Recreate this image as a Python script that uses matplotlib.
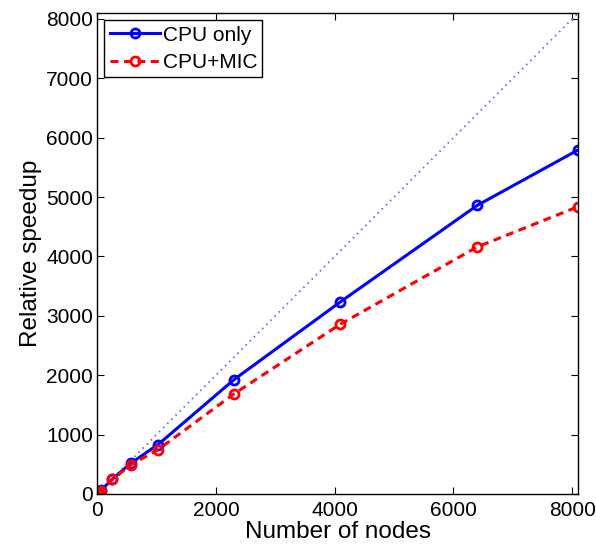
import matplotlib
matplotlib.use("Agg")
import matplotlib.pyplot as plt

plt.rcParams['font.family'] = ['Liberation Sans', 'DejaVu Sans']

nodes = [16, 64, 256, 576, 1024, 2304, 4096, 6400, 8100]
cpu_only = [16, 62, 250, 525, 830, 1925, 3235, 4860, 5795]
cpu_mic = [15, 55, 245, 495, 745, 1685, 2860, 4160, 4840]
ideal = [0, 8100]

fig = plt.figure(figsize=(5.96, 5.44), dpi=100)
ax = fig.add_axes([0.163, 0.092, 0.807, 0.884])

ax.plot(ideal, ideal, ':', color='#6070ff', lw=1.4, dashes=(0.8, 2.2))
ax.plot(nodes, cpu_only, '-o', color='#0000ff', lw=2.2, ms=6.5,
        mfc='none', mew=2, label='CPU only')
ax.plot(nodes, cpu_mic, '--o', color='#ff0000', lw=2.2, ms=6.5,
        mfc='none', mew=2, dashes=(2.6, 1.8), label='CPU+MIC')

ax.set_xlim(0, 8100)
ax.set_ylim(0, 8100)
ax.set_xticks([0, 2000, 4000, 6000, 8000])
ax.set_yticks(range(0, 8001, 1000))
ax.tick_params(direction='in', top=True, right=True, length=5, labelsize=15)
ax.tick_params(axis='x', pad=5)
ax.tick_params(axis='y', pad=3)
for s in ax.spines.values():
    s.set_linewidth(1.0)

ax.set_xlabel('Number of nodes', fontsize=17.5, labelpad=1)
ax.set_ylabel('Relative speedup', fontsize=17.5, labelpad=3)

leg = ax.legend(loc='upper left', fontsize=15, fancybox=False, framealpha=1,
                edgecolor='black', handlelength=2.4, borderaxespad=0.35,
                borderpad=0.25, labelspacing=0.4, handletextpad=0.15)
leg.get_frame().set_linewidth(1.0)

fig.savefig('out.png', dpi=100)
